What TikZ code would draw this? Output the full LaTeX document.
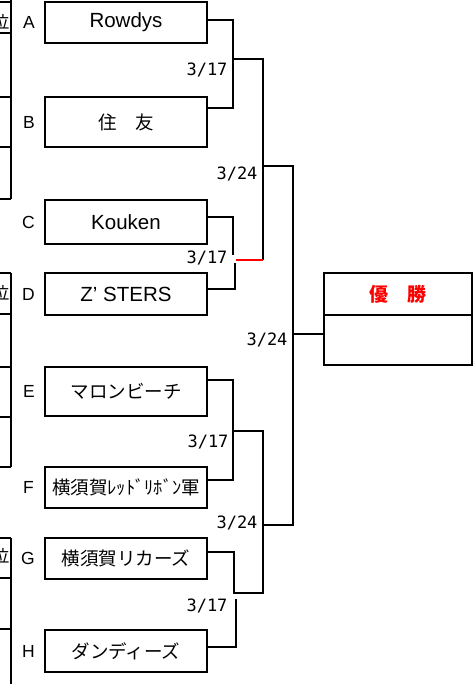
\documentclass[tikz,border=0pt]{standalone}
\usepackage{fontspec}
\setmainfont{Liberation Sans}
\newfontfamily\jp{Noto Sans CJK JP}
\newfontfamily\mono{DejaVu Sans Mono}
\usetikzlibrary{positioning}
\tikzstyle{team} = [draw, rectangle, line width=2pt, outer sep=0pt,
    minimum width=162pt, inner sep=0pt, font=\fontsize{20.5}{22}\selectfont]
\tikzstyle{letter} = [inner sep=0pt, font=\fontsize{17.5}{19}\selectfont]
\tikzstyle{date} = [inner sep=0pt, font=\mono\fontsize{17}{19}\selectfont]
\tikzstyle{wire} = [line width=1.2pt]
\tikzstyle{frame} = [line width=2pt]
\newcommand{\jpn}[1]{{\jp\fontsize{18.5}{21}\selectfont #1}}

\begin{document}
\begin{tikzpicture}[x=1pt, y=-1pt]
    \useasboundingbox (0,0) rectangle (473,684);
    \begin{scope}
        \clip (0,0) rectangle (473,684);
        \foreach \y in {2,33,97,147,199,273,314,367,417,467,538,578,629}
            \draw [frame] (-5,\y) -- (11,\y);
        \draw [frame] (11,-2) -- (11,199) (11,273) -- (11,467) (11,538) -- (11,690);
        \node [anchor=east, inner sep=0pt, font=\jp\fontsize{17}{19}\selectfont] (rank1) at (9.5,22) {位};
        \node [anchor=east, inner sep=0pt, font=\jp\fontsize{17}{19}\selectfont] (rank2) at (9.5,293) {位};
        \node [anchor=east, inner sep=0pt, font=\jp\fontsize{17}{19}\selectfont] (rank3) at (9.5,556) {位};
    \end{scope}

    \node [team, minimum height=41pt] (teamA) at (126,22.5) {Rowdys};
    \node [team, minimum height=50pt] (teamB) at (126,122) {\jpn{住　友}};
    \node [team, minimum height=44pt] (teamC) at (126,222) {Kouken};
    \node [team, minimum height=42pt] (teamD) at (126,294) {Z’ STERS};
    \node [team, minimum height=49pt] (teamE) at (126,391.5) {\jpn{マロンビーチ}};
    \node [team, minimum height=41pt] (teamF) at (126,487.5) {\jpn{横須賀ﾚｯﾄﾞﾘﾎﾞﾝ軍}};
    \node [team, minimum height=41pt] (teamG) at (126,558.5) {\jpn{横須賀リカーズ}};
    \node [team, minimum height=42pt] (teamH) at (126,651) {\jpn{ダンディーズ}};

    \node [letter, left=10pt of teamA] (labA) {A};
    \node [letter, left=10pt of teamB] (labB) {B};
    \node [letter, left=10pt of teamC] (labC) {C};
    \node [letter, left=10pt of teamD] (labD) {D};
    \node [letter, left=10pt of teamE] (labE) {E};
    \node [letter, left=11pt of teamF] (labF) {F};
    \node [letter, left=10pt of teamG] (labG) {G};
    \node [letter, left=10pt of teamH] (labH) {H};

    \node [team, minimum width=148pt, minimum height=42pt, text=red,
        font=\jp\bfseries\fontsize{19}{21}\selectfont] (winTop) at (398,294) {優　勝};
    \node [team, minimum width=148pt, minimum height=50pt, below=0pt of winTop] (winBot) {};

    \coordinate (jA) at (233,20);
    \coordinate (jB) at (233,108);
    \coordinate (jAB) at (233,59);
    \coordinate (kAB) at (263,59);
    \coordinate (jC) at (233,217);
    \coordinate (jC2) at (233,255);
    \coordinate (jD2) at (235,263);
    \coordinate (jD) at (235,289);
    \coordinate (jCD) at (236,260);
    \coordinate (kCD) at (263,260);
    \coordinate (kTop) at (263,166);
    \coordinate (fTop) at (293,166);
    \coordinate (fMid) at (293,334);
    \coordinate (fBot) at (293,525);
    \coordinate (kBot) at (263,525);
    \coordinate (jE) at (233,380);
    \coordinate (jF) at (233,480);
    \coordinate (jEF) at (233,431);
    \coordinate (kEF) at (263,431);
    \coordinate (jG) at (234,552);
    \coordinate (jGH) at (234,593);
    \coordinate (kGH) at (263,593);
    \coordinate (jH2) at (236,599);
    \coordinate (jH) at (236,647);

    \draw [wire] (teamA.east |- jA) -- (jA) -- (jB) -- (teamB.east |- jB);
    \draw [wire] (jAB) -- (kAB) -- (kCD);
    \draw [wire] (teamC.east |- jC) -- (jC) -- (jC2);
    \draw [wire] (jD2) -- (jD) -- (teamD.east |- jD);
    \draw [wire, red] (jCD) -- (kCD);
    \draw [wire] (kTop) -- (fTop) -- (fBot) -- (kBot);
    \draw [wire] (fMid) -- (winBot.west |- fMid);
    \draw [wire] (teamE.east |- jE) -- (jE) -- (jF) -- (teamF.east |- jF);
    \draw [wire] (jEF) -- (kEF) -- (kGH) -- (jGH) -- (jG) -- (teamG.east |- jG);
    \draw [wire] (jH2) -- (jH) -- (teamH.east |- jH);

    \node [date] (semi1) at (207,70) {3/17};
    \node [date] (semi2) at (207,258) {3/17};
    \node [date] (semi3) at (208,442) {3/17};
    \node [date] (semi4) at (207,606) {3/17};
    \node [date] (fin1) at (237,174) {3/24};
    \node [date] (fin2) at (267,340) {3/24};
    \node [date] (fin3) at (237,523) {3/24};
\end{tikzpicture}
\end{document}
